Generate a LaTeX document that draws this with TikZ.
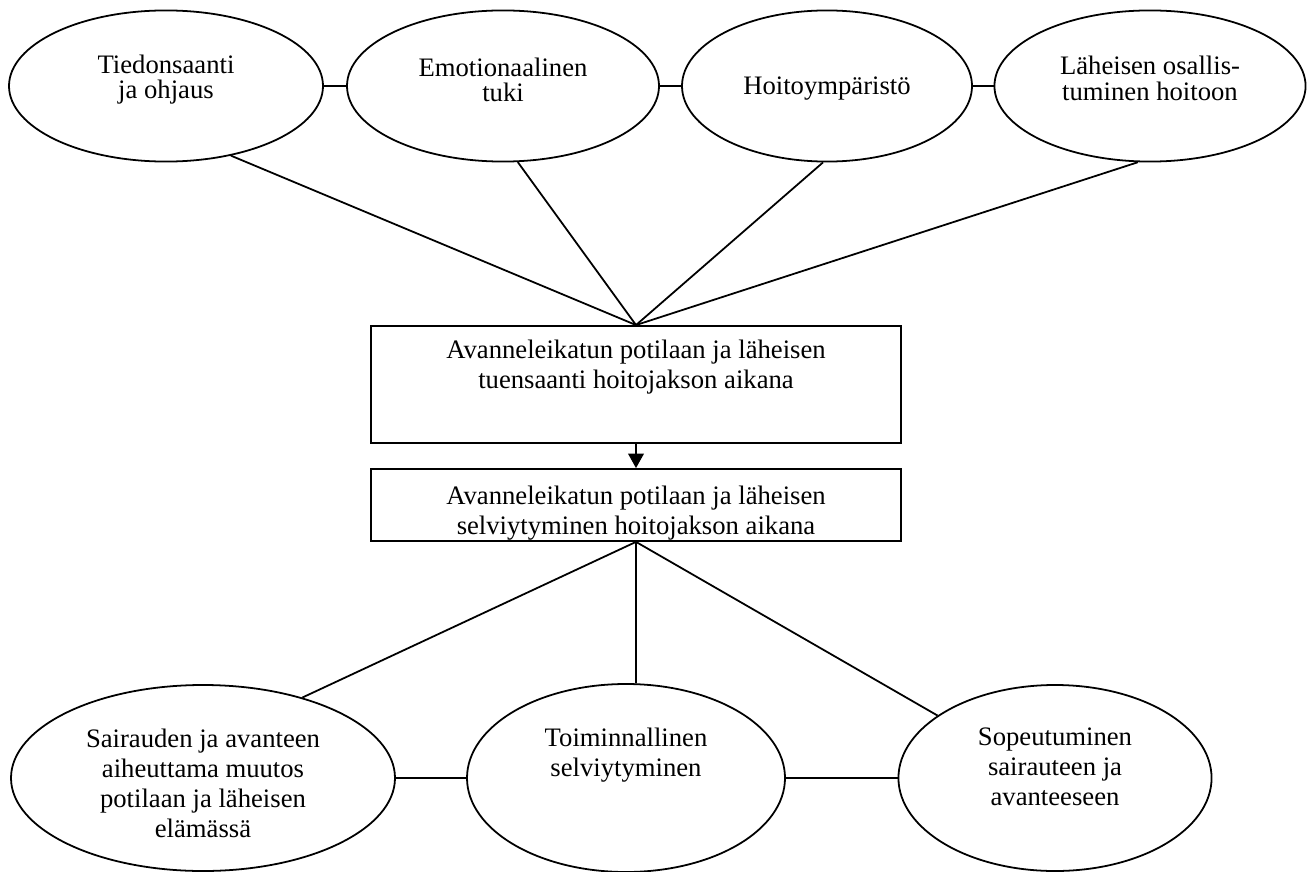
\documentclass[tikz,border=0pt]{standalone}
\usepackage{fontspec}
\setmainfont{Liberation Serif}
\usetikzlibrary{arrows.meta,shapes.geometric}

\tikzset{
  oval/.style={draw, ellipse, line width=0.8pt, inner sep=0pt},
  box/.style={draw, rectangle, line width=0.8pt, inner sep=0pt,
    minimum width=238.5pt},
  txt/.style={align=center, inner sep=0pt, font=\fontsize{12}{13.5}\selectfont},
  toptxt/.style={txt, font=\fontsize{12}{11.4}\selectfont},
  conn/.style={line width=0.8pt},
}

\begin{document}
\begin{tikzpicture}[x=0.45pt, y=-0.45pt]
\useasboundingbox (0,0) rectangle (1312,872);

% top row
\node[oval, minimum width=141.3pt, minimum height=68pt,
  label={[toptxt, name=tiedtxt, yshift=2.8pt]center:Tiedonsaanti\\ja ohjaus}] (tied) at (166,86) {};
\node[oval, minimum width=140.4pt, minimum height=68pt,
  label={[toptxt, name=emottxt, yshift=2.8pt]center:Emotionaalinen\\tuki}] (emot) at (503,86) {};
\node[oval, minimum width=130.5pt, minimum height=68pt,
  label={[toptxt, name=ympatxt, yshift=-1.2pt]center:Hoitoympäristö}] (ympa) at (827,86) {};
\node[oval, minimum width=140pt, minimum height=68pt,
  label={[toptxt, name=osaltxt, yshift=3.5pt]center:Läheisen osallis-\\tuminen hoitoon}] (osal) at (1150,86) {};

% middle boxes
\node[box, minimum height=52.7pt,
  label={[txt, name=tuentxt, yshift=7.7pt]center:Avanneleikatun potilaan ja läheisen\\tuensaanti hoitojakson aikana}] (tuen) at (636,384.5) {};
\node[box, minimum height=32.4pt,
  label={[txt, name=selvtxt, yshift=-3.8pt]center:Avanneleikatun potilaan ja läheisen\\selviytyminen hoitojakson aikana}] (selv) at (636,505) {};

% bottom row
\node[oval, minimum width=172.8pt, minimum height=83.7pt,
  label={[txt, name=muuttxt, yshift=-2.3pt]center:Sairauden ja avanteen\\aiheuttama muutos\\potilaan ja läheisen\\elämässä}] (muut) at (203,778) {};
\node[oval, minimum width=143.1pt, minimum height=84.6pt,
  label={[txt, name=toimtxt, yshift=10.3pt]center:Toiminnallinen\\selviytyminen}] (toim) at (626,778) {};
\node[oval, minimum width=140.9pt, minimum height=83.7pt,
  label={[txt, name=sopetxt, yshift=5pt]center:Sopeutuminen\\sairauteen ja\\avanteeseen}] (sope) at (1055,778) {};

% connectors
\draw[conn] (tied) -- (emot);
\draw[conn] (emot) -- (ympa);
\draw[conn] (ympa) -- (osal);
\draw[conn] (tied.-47) -- (tuen.north);
\draw[conn] (emot.-79) -- (tuen.north);
\draw[conn] (ympa.-93) -- (tuen.north);
\draw[conn] (osal.-99) -- (tuen.north);
\draw[conn, -{Triangle[length=6.5pt, width=7pt]}] (tuen) -- (selv);
\draw[conn] (selv.south) -- (muut.39);
\draw[conn] (selv.south) -- (toim.84);
\draw[conn] (selv.south) -- (sope.152);
\draw[conn] (muut) -- (toim);
\draw[conn] (toim) -- (sope);
\end{tikzpicture}
\end{document}
